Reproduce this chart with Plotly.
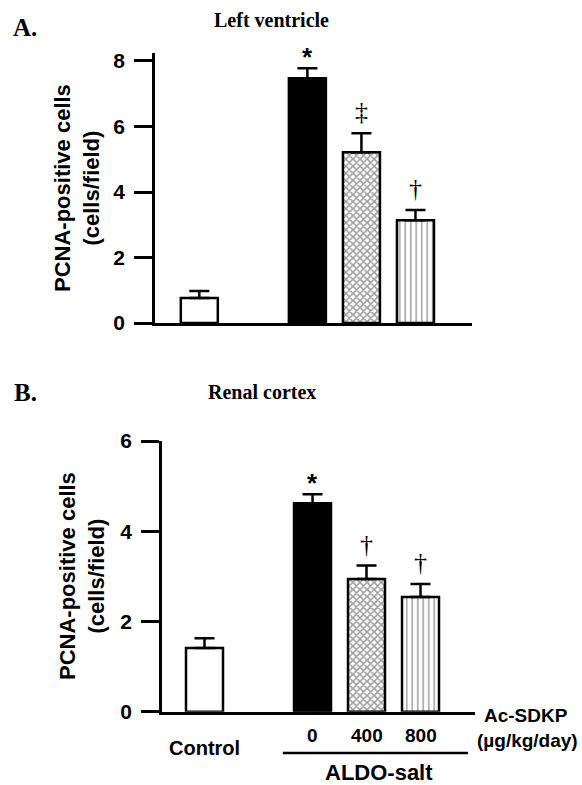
import plotly.graph_objects as go

# ---- data ----
groups = ["Control", "0", "400", "800"]
xpos = [0, 2, 3, 4]
lv_mean = [0.76, 7.47, 5.21, 3.14]
lv_sem = [0.22, 0.31, 0.58, 0.31]
lv_marks = ["", "*", "‡", "†"]
rc_mean = [1.41, 4.62, 2.94, 2.54]
rc_sem = [0.22, 0.20, 0.30, 0.29]
rc_marks = ["", "*", "†", "†"]
yticks_a = [0, 2, 4, 6, 8]
yticks_b = [0, 2, 4, 6]

W, H = 582, 785
SANS = "Liberation Sans, Arial, Helvetica, sans-serif"
SERIF = "Liberation Serif, Times New Roman, serif"

def px(x):
    return x / W

def py(y):
    return 1 - y / H

fills = ["white", "black", "white", "white"]
shapes_pat = ["", "", "x", "|"]
sizes_pat = [8, 8, 5, 5.5]
sol_pat = [0.3, 0.3, 0.55, 0.28]

fig = go.Figure()

def add_panel(means, sems, xa, ya):
    fig.add_trace(go.Bar(
        x=xpos, y=means, width=0.685,
        xaxis=xa, yaxis=ya,
        marker=dict(
            color=fills,
            line=dict(color="black", width=2.5),
            pattern=dict(shape=shapes_pat, size=sizes_pat, solidity=sol_pat,
                         fgcolor="black", bgcolor="white", fillmode="overlay"),
        ),
        error_y=dict(type="data", array=sems, arrayminus=[0] * len(sems),
                     symmetric=False, color="black", thickness=2.5, width=10),
        showlegend=False, hoverinfo="skip",
    ))

add_panel(lv_mean, lv_sem, "x", "y")
add_panel(rc_mean, rc_sem, "x2", "y2")

axis_common = dict(showline=True, linecolor="black", linewidth=2.5,
                   showgrid=False, zeroline=False, automargin=False)
ytick_common = dict(ticks="outside", ticklen=18, tickwidth=2.5, tickcolor="black",
                    tickfont=dict(family=SANS, size=21, color="black", weight="bold"),
                    ticklabelstandoff=5)

fig.update_layout(
    width=W, height=H,
    margin=dict(l=0, r=0, t=0, b=0, autoexpand=False),
    plot_bgcolor="white", paper_bgcolor="white",
    xaxis=dict(domain=[px(155), px(472)], range=[-0.82, 5.046], anchor="y",
               showticklabels=False, ticks="", **axis_common),
    yaxis=dict(domain=[py(323), py(53)], range=[0, 8.244], anchor="x",
               tickvals=yticks_a, **axis_common, **ytick_common),
    xaxis2=dict(domain=[px(162), px(475)], range=[-0.787, 5.009], anchor="y2",
                showticklabels=False, ticks="", **axis_common),
    yaxis2=dict(domain=[py(711.7), py(441)], range=[0, 6], anchor="x2",
                tickvals=yticks_b, **axis_common, **ytick_common),
)

ann = []
def txt(text, x, y, size, family=SANS, bold=True, xref="paper", yref="paper",
        xanchor="center", yanchor="middle", **kw):
    ann.append(dict(text=text, x=x, y=y, xref=xref, yref=yref, showarrow=False,
                    xanchor=xanchor, yanchor=yanchor,
                    font=dict(family=family, size=size, color="black",
                              weight="bold" if bold else "normal"), **kw))

# panel letters and titles
txt("A.", px(25), py(28), 25, family=SERIF)
txt("B.", px(25), py(392), 25, family=SERIF)
txt("Left ventricle", px(271), py(20), 20, family=SERIF)
txt("Renal cortex", px(262), py(392), 20, family=SERIF)

# y-axis titles
txt("PCNA-positive cells<br>(cells/field)", px(77), py(188), 22, textangle=-90)
txt("PCNA-positive cells<br>(cells/field)", px(82), py(576), 22, textangle=-90)

# significance marks
def marks(means, sems, labels, xref, yref):
    for x, m, s, lab in zip(xpos, means, sems, labels):
        if not lab:
            continue
        if lab == "*":
            txt(lab, x, m + s, 26, xref=xref, yref=yref, yanchor="bottom", yshift=-6)
        else:
            txt(lab, x, m + s, 26, family=SERIF, bold=False, xref=xref, yref=yref,
                yanchor="bottom", yshift=5)

marks(lv_mean, lv_sem, lv_marks, "x", "y")
marks(rc_mean, rc_sem, rc_marks, "x2", "y2")

# category labels under panel B
txt(groups[0], xpos[0], py(748), 20, xref="x2")
for g, x in zip(groups[1:], xpos[1:]):
    txt(g, x, py(735), 19, xref="x2")
txt("ALDO-salt", (xpos[1] + xpos[3]) / 2 + 0.23, py(772), 22, xref="x2")
txt("Ac-SDKP", px(526), py(715), 19)
txt("(µg/kg/day)", px(527), py(740), 19)

fig.update_layout(annotations=ann)

fig.add_shape(type="line", xref="x2", yref="paper",
              x0=xpos[1] - 0.55, x1=xpos[3] + 0.88, y0=py(753), y1=py(753),
              line=dict(color="black", width=2.5))

fig.write_html("out.html")
